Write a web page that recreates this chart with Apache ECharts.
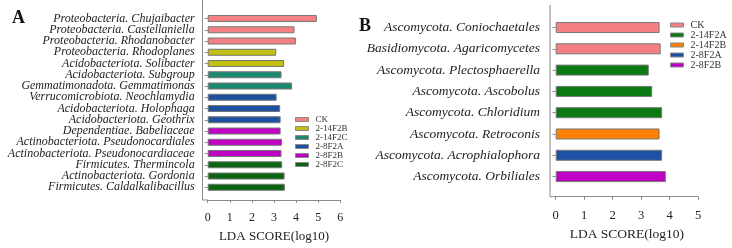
<!DOCTYPE html>
<html>
<head>
<meta charset="utf-8">
<script src="https://cdn.jsdelivr.net/npm/echarts@6/dist/echarts.min.js"></script>
<style>
  html, body { margin: 0; padding: 0; background: #fff; }
  #chart { width: 732px; height: 248px; }
</style>
</head>
<body>
<div id="chart"></div>
<script>
// panel A
const taxaA = [
  'Proteobacteria. Chujaibacter', 'Proteobacteria. Castellaniella', 'Proteobacteria. Rhodanobacter',
  'Proteobacteria. Rhodoplanes', 'Acidobacteriota. Solibacter', 'Acidobacteriota. Subgroup',
  'Gemmatimonadota. Gemmatimonas', 'Verrucomicrobiota. Neochlamydia', 'Acidobacteriota. Holophaga',
  'Acidobacteriota. Geothrix', 'Dependentiae. Babeliaceae', 'Actinobacteriota. Pseudonocardiales',
  'Actinobacteriota. Pseudonocardiaceae', 'Firmicutes. Thermincola', 'Actinobacteriota. Gordonia',
  'Firmicutes. Caldalkalibacillus'
];
const scoresA = [4.94, 3.93, 3.99, 3.10, 3.46, 3.34, 3.82, 3.12, 3.28, 3.30, 3.30, 3.36, 3.34, 3.37, 3.48, 3.49];
const groupOfA = ['CK', 'CK', 'CK', '2-14F2B', '2-14F2B', '2-14F2C', '2-14F2C', '2-8F2A', '2-8F2A', '2-8F2A',
  '2-8F2B', '2-8F2B', '2-8F2B', '2-8F2C', '2-8F2C', '2-8F2C'];
const groupsA = ['CK', '2-14F2B', '2-14F2C', '2-8F2A', '2-8F2B', '2-8F2C'];
const colorsA = ['#f58084', '#c2c010', '#1b8a70', '#1e50a2', '#c000c4', '#0a6412'];
const ticksA = [0, 6];

// panel B
const taxaB = [
  'Ascomycota. Coniochaetales', 'Basidiomycota. Agaricomycetes', 'Ascomycota. Plectosphaerella',
  'Ascomycota. Ascobolus', 'Ascomycota. Chloridium', 'Ascomycota. Retroconis',
  'Ascomycota. Acrophialophora', 'Ascomycota. Orbiliales'
];
const scoresB = [3.65, 3.69, 3.27, 3.39, 3.74, 3.65, 3.74, 3.87];
const groupOfB = ['CK', 'CK', '2-14F2A', '2-14F2A', '2-14F2A', '2-14F2B', '2-8F2A', '2-8F2B'];
const groupsB = ['CK', '2-14F2A', '2-14F2B', '2-8F2A', '2-8F2B'];
const colorsB = ['#f58084', '#0b7a12', '#ff8000', '#1e50a6', '#c000c4'];
const ticksB = [0, 5];

const serif = 'Liberation Serif';

function makeSeries(groups, colors, groupOf, scores, idx, barW) {
  return groups.map((g, k) => ({
    name: g + (idx ? ' ' : ''),
    type: 'bar',
    xAxisIndex: idx, yAxisIndex: idx,
    barWidth: barW,
    barGap: '-100%',
    itemStyle: { color: colors[k], borderColor: '#777', borderWidth: 1 },
    data: scores.map((v, i) => groupOf[i] === g ? v : '-'),
    silent: true
  }));
}

const chart = echarts.init(document.getElementById('chart'), null, { renderer: 'canvas' });

function xAx(idx, ticks, offset, margin, gap, fs, ns) {
  return {
    gridIndex: idx, type: 'value', min: ticks[0], max: ticks[1], interval: 1,
    offset: offset,
    splitLine: { show: false },
    axisLine: { show: true, lineStyle: { color: '#8a8a8a', width: 1 } },
    axisTick: { show: true, length: 3, lineStyle: { color: '#8a8a8a' } },
    axisLabel: { margin: margin, fontFamily: serif, fontSize: fs, color: '#222' },
    name: 'LDA SCORE(log10)', nameLocation: 'middle', nameGap: gap,
    nameTextStyle: { fontFamily: serif, fontSize: ns, color: '#222' }
  };
}
function yAx(idx, cats, offset, margin, fs) {
  return {
    gridIndex: idx, type: 'category', data: cats, inverse: true,
    offset: offset,
    axisLine: { show: false },
    axisTick: { show: true, alignWithLabel: true, length: 3, lineStyle: { color: '#8a8a8a' } },
    axisLabel: { interval: 0, margin: margin, fontFamily: serif, fontStyle: 'italic', fontSize: fs, color: '#222' }
  };
}
function legend(groups, left, top, fs, lh) {
  return {
    data: groups, orient: 'vertical', left: left, top: top,
    icon: 'rect', itemWidth: 13, itemHeight: 4, itemGap: 0,
    itemStyle: { borderColor: '#888', borderWidth: 1 },
    textStyle: { fontFamily: serif, fontSize: fs, lineHeight: lh, color: '#333', padding: [0, 0, 0, 2] },
    selectedMode: false
  };
}

chart.setOption({
  animation: false,
  grid: [
    { left: 207.7, top: 12.9, width: 132.6, height: 180 },
    { left: 555.7, top: 16.9, width: 142.3, height: 170.3 }
  ],
  xAxis: [xAx(0, ticksA, 7, 12, 30, 12, 13), xAx(1, ticksB, 9.5, 13, 31, 12.5, 13.5)],
  yAxis: [yAx(0, taxaA, 5, 8, 12), yAx(1, taxaB, 5.7, 10, 13.5)],
  legend: [
    legend(groupsA, 290, 110, 9, 7.9),
    legend(groupsB.map(g => g + ' '), 665, 15, 10, 8.8)
  ],
  series: makeSeries(groupsA, colorsA, groupOfA, scoresA, 0, 7)
    .concat(makeSeries(groupsB, colorsB, groupOfB, scoresB, 1, 11)),
  graphic: [
    { type: 'polyline', shape: { points: [[202.5, 0], [202.5, 200], [208, 200]] },
      style: { stroke: '#8a8a8a', lineWidth: 1, fill: null }, silent: true },
    { type: 'polyline', shape: { points: [[550, 5], [550, 196.7], [556, 196.7]] },
      style: { stroke: '#8a8a8a', lineWidth: 1, fill: null }, silent: true },
    { type: 'text', left: 12, top: 9,
      style: { text: 'A', fontFamily: serif, fontWeight: 'bold', fontSize: 18, fill: '#111' } },
    { type: 'text', left: 359, top: 17,
      style: { text: 'B', fontFamily: serif, fontWeight: 'bold', fontSize: 18, fill: '#111' } }
  ]
});
</script>
</body>
</html>
